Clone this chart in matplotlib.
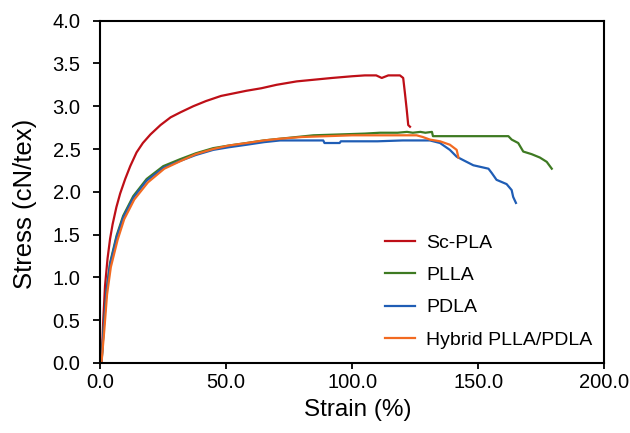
import matplotlib
matplotlib.use("Agg")
import matplotlib.pyplot as plt
from matplotlib.ticker import FormatStrFormatter

plt.rcParams['font.family'] = ['Liberation Sans', 'DejaVu Sans']

# Sc-PLA
sc_strain = [0.6, 1.3, 2.0, 3.0, 4.0, 5.0, 6.5, 8.0, 10, 12, 14.5, 17, 20, 24, 28, 32, 37, 42, 48, 53, 58,
             64, 70, 78, 85, 92, 100, 105, 109.5, 111.7, 114.3, 118.9, 120.2, 120.9, 121.6, 122.2, 122.9]
sc_stress = [0, 0.50, 0.90, 1.22, 1.45, 1.62, 1.82, 1.98, 2.15, 2.30, 2.46, 2.57, 2.67, 2.78, 2.87, 2.93, 3.00, 3.06,
             3.12, 3.15, 3.18, 3.21, 3.25, 3.29, 3.31, 3.33, 3.35, 3.36, 3.36, 3.33, 3.36, 3.36, 3.33, 3.15,
             2.96, 2.78, 2.76]

# PLLA
pl_strain = [0.6, 1.5, 2.6, 4.0, 6.6, 9.2, 13.2, 18.5, 25.1, 31.7, 38, 44.9, 51, 58.2, 65, 71.4, 78, 84.6,
             95, 105, 111, 118, 121.7, 124, 127, 129, 131.6, 132, 140, 150, 161.9, 163.2, 165.8, 167.8,
             171.1, 174.4, 177.1, 179.1]
pl_stress = [0, 0.42, 0.85, 1.17, 1.49, 1.72, 1.95, 2.15, 2.30, 2.38, 2.45, 2.51, 2.54, 2.57, 2.60, 2.62, 2.64, 2.66,
             2.67, 2.68, 2.69, 2.69, 2.70, 2.69, 2.70, 2.69, 2.70, 2.65, 2.65, 2.65, 2.65, 2.61, 2.57, 2.47,
             2.44, 2.40, 2.35, 2.27]

# PDLA
pd_strain = [0.6, 1.5, 2.6, 4.0, 6.6, 9.2, 13.2, 18.5, 25.1, 31.7, 38, 44.9, 51, 58.2, 65, 71.4, 80, 88.5,
             89, 95, 95.5, 110, 120, 130.8, 134.8, 138.7, 141.4, 144, 148, 154, 155.3, 157.2, 161.2,
             163.2, 163.8, 164.9]
pd_stress = [0, 0.41, 0.84, 1.15, 1.47, 1.70, 1.93, 2.13, 2.28, 2.36, 2.43, 2.49, 2.52, 2.55, 2.58, 2.60, 2.60, 2.60,
             2.57, 2.57, 2.59, 2.59, 2.60, 2.60, 2.57, 2.49, 2.41, 2.37, 2.31, 2.27, 2.22, 2.14, 2.09,
             2.02, 1.94, 1.87]

# Hybrid PLLA/PDLA
hy_strain = [0.6, 1.7, 2.8, 4.3, 7.0, 9.6, 13.6, 19, 25.5, 32, 38, 44.9, 51, 58.2, 65, 71.4, 80, 90,
             100, 111, 120, 125.5, 128, 130.8, 134.8, 138.7, 141.4, 142.1]
hy_stress = [0, 0.38, 0.80, 1.12, 1.44, 1.68, 1.91, 2.11, 2.27, 2.36, 2.44, 2.50, 2.54, 2.57, 2.60, 2.62, 2.64, 2.65,
             2.66, 2.66, 2.66, 2.66, 2.64, 2.61, 2.59, 2.55, 2.49, 2.40]

x_ticks = [0, 50, 100, 150, 200]
y_ticks = [0, 0.5, 1.0, 1.5, 2.0, 2.5, 3.0, 3.5, 4.0]

fig = plt.figure(figsize=(6.3, 4.33), dpi=100)
ax = fig.add_axes([0.1587, 0.1617, 0.8008, 0.7907])

lw = 1.6
ax.plot(sc_strain, sc_stress, color='#BE0F17', lw=lw, label='Sc-PLA')
ax.plot(pl_strain, pl_stress, color='#3E7A22', lw=lw, label='PLLA')
ax.plot(pd_strain, pd_stress, color='#1F5DB5', lw=lw, label='PDLA')
ax.plot(hy_strain, hy_stress, color='#F26A21', lw=lw, label='Hybrid PLLA/PDLA')

ax.set_xlim(0, 200)
ax.set_ylim(0, 4.0)
ax.set_xticks(x_ticks)
ax.set_yticks(y_ticks)
ax.xaxis.set_major_formatter(FormatStrFormatter('%.1f'))
ax.yaxis.set_major_formatter(FormatStrFormatter('%.1f'))
ax.tick_params(direction='out', width=1.3, labelsize=14.5, colors='black')
ax.tick_params(axis='y', length=5, pad=9)
ax.tick_params(axis='x', length=4.5, pad=3)
for s in ax.spines.values():
    s.set_linewidth(1.5)

ax.set_xlabel('Strain (%)', fontsize=17.5, va='top')
ax.set_ylabel('Stress (cN/tex)', fontsize=18.5)
ax.xaxis.set_label_coords(0.51, -0.105)
ax.yaxis.set_label_coords(-0.125, 0.465)

ax.legend(loc='upper left', bbox_to_anchor=(0.584, 0.50), bbox_transform=fig.transFigure,
          frameon=False, fontsize=14, borderpad=0.4,
          handlelength=1.54, labelspacing=0.76, handletextpad=0.57)

fig.savefig('out.png', dpi=100)
